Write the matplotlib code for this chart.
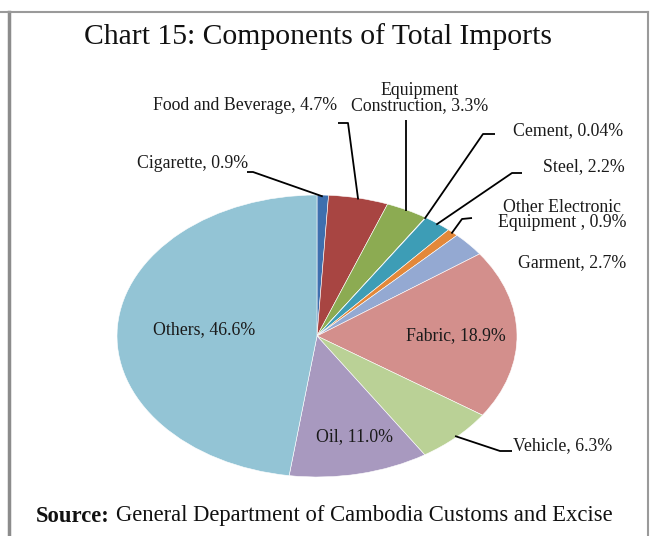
import numpy as np
import matplotlib
matplotlib.use("Agg")
import matplotlib.pyplot as plt

# data (percent of total imports), clockwise from 12 o'clock
labels = ["Cigarette", "Food and Beverage", "Equipment\nConstruction", "Cement",
          "Steel", "Other Electronic\nEquipment ", "Garment", "Fabric",
          "Vehicle", "Oil", "Others"]
values = [0.9, 4.7, 3.3, 0.04, 2.2, 0.9, 2.7, 18.9, 6.3, 11.0, 46.6]
value_text = ["0.9%", "4.7%", "3.3%", "0.04%", "2.2%", "0.9%", "2.7%",
              "18.9%", "6.3%", "11.0%", "46.6%"]
colors = ["#3e6fae", "#a84542", "#8cab52", "#7d5fa0", "#3d9db6", "#e3883a",
          "#94a9d2", "#d38f8c", "#bad196", "#a899bf", "#93c4d5"]

W, H = 651, 536
fig = plt.figure(figsize=(W / 100, H / 100), dpi=100)
plt.rcParams['font.family'] = ['Liberation Serif', 'DejaVu Serif']

# pie axes: elliptical pie as in the excel original
ax = fig.add_axes([117 / W, 1 - 477 / H, 400 / W, 282 / H])
wedges, _ = ax.pie(values, colors=colors, startangle=90, counterclock=False,
                   wedgeprops=dict(edgecolor="white", linewidth=0.4))
ax.set_aspect("auto")
ax.set_xlim(-1, 1)
ax.set_ylim(-1, 1)
ax.axis("off")

# overlay in pixel coords for texts / leader lines
ov = fig.add_axes([0, 0, 1, 1], zorder=5)
ov.set_xlim(0, W)
ov.set_ylim(H, 0)
ov.axis("off")
ov.patch.set_alpha(0)


def edge_point(i, r=1.0):
    w = wedges[i]
    th = np.deg2rad((w.theta1 + w.theta2) / 2)
    p = ax.transData.transform((r * np.cos(th), r * np.sin(th)))
    return ov.transData.inverted().transform(p)


fs = 12.8
# (text x, text y, ha, elbow points)
layout = {
    0: (193, 163, "center", [(247, 172), (253, 172)]),
    1: (245, 105, "center", [(338, 123), (348, 123)]),
    2: (420, 98, "center", [(406, 120)]),
    3: (513, 131, "left", [(495, 134), (483, 134)]),
    4: (543, 167, "left", [(522, 173), (512, 173)]),
    5: (562, 215, "center", [(472, 218), (462, 219)]),
    6: (518, 263, "left", None),
    8: (513, 446, "left", [(512, 451), (500, 451)]),
}
for i, (tx, ty, ha, pts) in layout.items():
    ov.text(tx, ty, f"{labels[i]}, {value_text[i]}", ha=ha, va="center",
            fontsize=fs, color="#1a1a1a", linespacing=0.84)
    if pts:
        ex, ey = edge_point(i, 0.99)
        xs = [p[0] for p in pts] + [ex]
        ys = [p[1] for p in pts] + [ey]
        if i == 2:
            xs[-1] = xs[0]
        ov.plot(xs, ys, color="black", lw=1.3, solid_capstyle="butt")

# labels inside slices
ov.text(204, 330, f"{labels[10]}, {value_text[10]}", ha="center", va="center",
        fontsize=fs, color="#1a1a1a")
ov.text(456, 336, f"{labels[7]}, {value_text[7]}", ha="center", va="center",
        fontsize=fs, color="#1a1a1a")
ov.text(355, 437, f"{labels[9]}, {value_text[9]}", ha="center", va="center",
        fontsize=fs, color="#1a1a1a")

# title
ov.text(318, 37, "Chart 15: Components of Total Imports", ha="center",
        va="center", fontsize=21.3, color="#111111")

# source line
r = fig.canvas.get_renderer()
t1 = ov.text(36, 516, "Source:", ha="left", va="center", fontsize=16.3,
             fontweight="bold", color="#111111")
bb = t1.get_window_extent(renderer=r)
x2 = ov.transData.inverted().transform((bb.x1, 0))[0] + 6
ov.text(x2, 516, "General Department of Cambodia Customs and Excise",
        ha="left", va="center", fontsize=16.3, color="#111111")

# frame
ov.plot([9, 9], [12, H], color="#8c8c8c", lw=2.5)
ov.plot([0, 648], [12, 12], color="#9a9a9a", lw=1.5)
ov.plot([648, 648], [12, H], color="#9a9a9a", lw=1.5)

fig.savefig("out.png", dpi=100)
